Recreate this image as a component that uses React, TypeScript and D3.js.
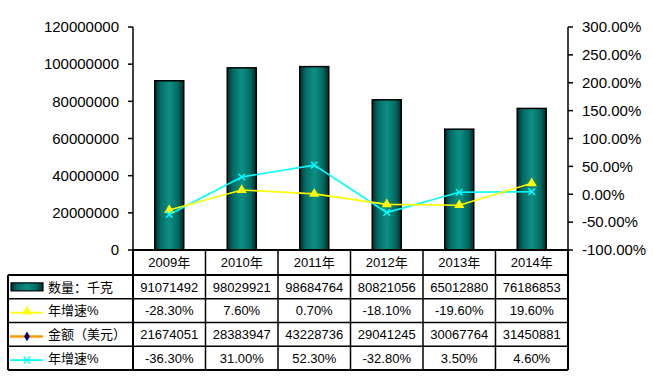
import React, { useRef, useEffect } from "react";
import * as d3 from "d3";

// chart data
const years = ["2009年", "2010年", "2011年", "2012年", "2013年", "2014年"];
const quantity = [91071492, 98029921, 98684764, 80821056, 65012880, 76186853];
const quantityGrowth = [-28.3, 7.6, 0.7, -18.1, -19.6, 19.6];
const amount = [21674051, 28383947, 43228736, 29041245, 30067764, 31450881];
const amountGrowth = [-36.3, 31.0, 52.3, -32.8, 3.5, 4.6];
const leftTicks = [0, 20000000, 40000000, 60000000, 80000000, 100000000, 120000000];
const rightTicks = [-100, -50, 0, 50, 100, 150, 200, 250, 300];

const rowLabels = ["数量：千克", "年增速%", "金额（美元）", "年增速%"];

const W = 653;
const H = 386;
const FONT = "'Liberation Sans', Arial, 'Noto Sans CJK SC', sans-serif";

// plain hyphen minus, like Excel prints it
const pct = (v: number) => v.toFixed(2) + "%";

export default function App() {
  const svgRef = useRef<SVGSVGElement>(null);

  useEffect(() => {
    const svg = d3.select(svgRef.current);
    svg.selectAll("*").remove();

    const left = 133, right = 568, top = 27, bottom = 250;

    const x = d3.scaleBand().domain(years).range([left, right]).padding(0);
    const yL = d3.scaleLinear().domain([0, 120000000]).range([bottom, top]);
    const yR = d3.scaleLinear().domain([-100, 300]).range([bottom, top]);

    // gradient for the cylinder-ish bars
    const defs = svg.append("defs");
    const grad = defs.append("linearGradient").attr("id", "barGrad")
      .attr("x1", "0").attr("x2", "1").attr("y1", "0").attr("y2", "0");
    grad.append("stop").attr("offset", "0%").attr("stop-color", "#012e2b");
    grad.append("stop").attr("offset", "20%").attr("stop-color", "#036d66");
    grad.append("stop").attr("offset", "50%").attr("stop-color", "#0c8f85");
    grad.append("stop").attr("offset", "80%").attr("stop-color", "#046a63");
    grad.append("stop").attr("offset", "100%").attr("stop-color", "#012a27");

    // bars
    const bw = x.bandwidth() * 0.4;
    svg.append("g").selectAll("rect").data(quantity).join("rect")
      .attr("x", (d, i) => x(years[i])! + x.bandwidth() / 2 - bw / 2)
      .attr("y", d => yL(d))
      .attr("width", bw)
      .attr("height", d => bottom - yL(d))
      .attr("fill", "url(#barGrad)")
      .attr("stroke", "#000")
      .attr("stroke-width", 1.5);

    // left axis
    const gl = svg.append("g");
    gl.append("line").attr("x1", left).attr("x2", left).attr("y1", top).attr("y2", bottom)
      .attr("stroke", "#000").attr("stroke-width", 1.5);
    gl.selectAll(".t").data(leftTicks).join("line")
      .attr("x1", left - 5).attr("x2", left).attr("y1", d => yL(d)).attr("y2", d => yL(d))
      .attr("stroke", "#000").attr("stroke-width", 1.5);
    gl.selectAll("text").data(leftTicks).join("text")
      .attr("x", 119).attr("y", d => yL(d)).attr("dy", "0.35em")
      .attr("text-anchor", "end").attr("font-size", 15).attr("font-family", FONT)
      .text(d => String(d));

    // right axis
    const gr = svg.append("g");
    gr.append("line").attr("x1", right).attr("x2", right).attr("y1", top).attr("y2", bottom)
      .attr("stroke", "#000").attr("stroke-width", 1.5);
    gr.selectAll("line.t").data(rightTicks).join("line")
      .attr("class", "t")
      .attr("x1", right).attr("x2", right + 5).attr("y1", d => yR(d)).attr("y2", d => yR(d))
      .attr("stroke", "#000").attr("stroke-width", 1.5);
    gr.selectAll("text").data(rightTicks).join("text")
      .attr("x", 582).attr("y", d => yR(d)).attr("dy", "0.35em")
      .attr("font-size", 15).attr("font-family", FONT)
      .text(d => pct(d));

    // growth lines
    const cx = (i: number) => x(years[i])! + x.bandwidth() / 2;
    const line = d3.line<number>().x((d, i) => cx(i)).y(d => yR(d));

    svg.append("path").datum(amountGrowth).attr("d", line)
      .attr("fill", "none").attr("stroke", "#00ffff").attr("stroke-width", 1.6);
    svg.append("path").datum(quantityGrowth).attr("d", line)
      .attr("fill", "none").attr("stroke", "#ffff00").attr("stroke-width", 1.6);

    const tri = d3.symbol().type(d3.symbolTriangle).size(45);
    svg.append("g").selectAll("path").data(quantityGrowth).join("path")
      .attr("d", tri)
      .attr("transform", (d, i) => `translate(${cx(i)},${yR(d)})`)
      .attr("fill", "#ffff00");

    const cross = d3.symbol().type(d3.symbolX).size(30);
    svg.append("g").selectAll("path").data(amountGrowth).join("path")
      .attr("d", cross)
      .attr("transform", (d, i) => `translate(${cx(i)},${yR(d)})`)
      .attr("fill", "none").attr("stroke", "#00ffff").attr("stroke-width", 1.5);

    // data table
    const tLeft = 8;
    const headTop = bottom, headBottom = 275, rowH = 23.75;
    const tBottom = headBottom + rowH * 4;
    const tbl = svg.append("g");

    // header texts
    tbl.selectAll("text.h").data(years).join("text")
      .attr("class", "h")
      .attr("x", d => x(d)! + x.bandwidth() / 2).attr("y", (headTop + headBottom) / 2)
      .attr("dy", "0.36em").attr("text-anchor", "middle")
      .attr("font-size", 13).attr("font-family", FONT).text(d => d);

    const rows: string[][] = [
      quantity.map(String),
      quantityGrowth.map(pct),
      amount.map(String),
      amountGrowth.map(pct),
    ];
    rows.forEach((r, ri) => {
      const yc = headBottom + rowH * ri + rowH / 2;
      tbl.append("g").selectAll("text").data(r).join("text")
        .attr("x", (d, i) => cx(i)).attr("y", yc).attr("dy", "0.36em")
        .attr("text-anchor", "middle").attr("font-size", 13).attr("font-family", FONT)
        .text(d => d);
      tbl.append("text").attr("x", 48).attr("y", yc).attr("dy", "0.36em")
        .attr("font-size", 13).attr("font-family", FONT).text(rowLabels[ri]);
    });

    // legend keys
    const rc = (ri: number) => headBottom + rowH * ri + rowH / 2;
    tbl.append("rect").attr("x", 11).attr("y", rc(0) - 4).attr("width", 32).attr("height", 8)
      .attr("fill", "url(#barGrad)").attr("stroke", "#000").attr("stroke-width", 1.2);
    tbl.append("line").attr("x1", 10).attr("x2", 43).attr("y1", rc(1) + 2).attr("y2", rc(1) + 2)
      .attr("stroke", "#ffff00").attr("stroke-width", 1.6);
    tbl.append("path").attr("d", tri).attr("transform", `translate(27,${rc(1) + 1})`).attr("fill", "#ffff00");
    tbl.append("line").attr("x1", 10).attr("x2", 43).attr("y1", rc(2) + 2).attr("y2", rc(2) + 2)
      .attr("stroke", "#ff9900").attr("stroke-width", 2.5);
    tbl.append("path").attr("d", d3.symbol().type(d3.symbolDiamond).size(28))
      .attr("transform", `translate(27,${rc(2) + 2})`).attr("fill", "#000080");
    tbl.append("line").attr("x1", 10).attr("x2", 43).attr("y1", rc(3) + 2).attr("y2", rc(3) + 2)
      .attr("stroke", "#00ffff").attr("stroke-width", 1.6);
    tbl.append("path").attr("d", cross).attr("transform", `translate(27,${rc(3) + 2})`)
      .attr("fill", "none").attr("stroke", "#00ffff").attr("stroke-width", 1.5);

    // grid lines of the table
    const g = tbl.append("g").attr("stroke", "#000").attr("fill", "none");
    g.append("line").attr("x1", left).attr("x2", right).attr("y1", headTop).attr("y2", headTop).attr("stroke-width", 2);
    [0, 1, 2, 3, 4].forEach(k => {
      const yy = headBottom + rowH * k;
      g.append("line").attr("x1", tLeft).attr("x2", right).attr("y1", yy).attr("y2", yy)
        .attr("stroke-width", k === 0 || k === 4 ? 2 : 1.5);
    });
    const xs = years.map(d => x(d)!).concat([right]);
    xs.forEach((xx, k) => {
      g.append("line").attr("x1", xx).attr("x2", xx).attr("y1", headTop).attr("y2", tBottom)
        .attr("stroke-width", k === 0 || k === xs.length - 1 ? 2 : 1.5);
    });
    g.append("line").attr("x1", tLeft).attr("x2", tLeft).attr("y1", headBottom).attr("y2", tBottom)
      .attr("stroke-width", 2);
  }, []);

  return (
    <div style={{ position: "absolute", left: 0, top: 0, width: W, height: H, background: "#fff" }}>
      <svg ref={svgRef} width={W} height={H} />
    </div>
  );
}
